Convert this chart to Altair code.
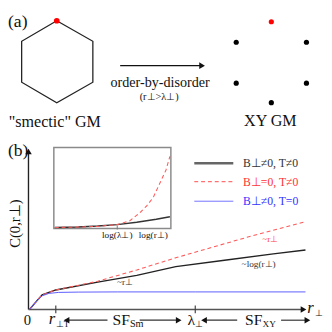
import altair as alt
import pandas as pd

FONT = "Liberation Serif"

# ---------------- panel (a) ----------------
hex_x = [58, 95, 95, 58, 22, 22, 58]
hex_y = [17, 38, 80, 101, 80, 38, 17]
hex_dot_x = [58]
hex_dot_y = [17]
xy_dot_x = [278, 314, 314, 278, 242, 242]
xy_dot_y = [18, 39, 81, 101, 81, 39]
xy_dot_col = ["red", "black", "black", "black", "black", "black"]

# ---------------- panel (b): main curves ----------------
black_x = [30, 36, 43, 57, 100, 140, 180, 230, 280, 313]
black_y = [313, 306, 298, 293, 285, 278, 269, 262.5, 256, 252]
red_x = [30, 36, 43, 57, 100, 140, 180, 253, 313]
red_y = [313, 306, 298, 293, 284, 272.5, 260, 239, 223]
blue_x = [30, 36, 43, 50, 60, 80, 120, 200, 313]
blue_y = [313, 306, 299, 296.5, 295.5, 295.2, 295, 295, 295]

# ---------------- inset curves ----------------
in_black_x = [56, 80, 100, 120, 140, 160, 174]
in_black_y = [229, 228.5, 227.5, 226, 223.5, 220.5, 218]
in_red_x = [56, 80, 100, 120, 133, 143, 150, 157, 163, 170, 174]
in_red_y = [229, 228.5, 227.8, 226, 222, 214, 207, 198, 185, 170, 156]

# ---------------- straight segments ----------------
seg_x1 = [29, 29, 57, 200, 123, 68, 143, 208, 288]
seg_y1 = [313, 313, 309, 309, 63, 324, 324, 324, 324]
seg_x2 = [29, 309, 57, 200, 205, 110, 181, 243, 313]
seg_y2 = [153, 313, 317, 317, 63, 324, 324, 324, 324]
seg_w = [1.4, 1.6, 1.2, 1.2, 1.5, 1.2, 1.2, 1.2, 1.2]
seg_c = ["#222", "#555", "#444", "#444", "#111", "#333", "#333", "#333", "#333"]

# arrow heads
head_x = [207, 29, 311, 68, 183, 209, 315]
head_y = [63, 151, 313, 324, 324, 324, 324]
head_shape = ["triangle-right", "triangle-up", "triangle-right", "triangle-left",
              "triangle-right", "triangle-left", "triangle-right"]

# legend
leg_labels = ["B\u22a5\u22600, T\u22600", "B\u22a5=0, T\u22600", "B\u22a5\u22600, T=0"]
leg_colors = ["#333333", "#ff3333", "#3333ff"]
leg_y = [163, 182, 202]

# texts (centered)
ctext = ['"smectic" GM', "XY GM", "order-by-disorder", "(r\u22a5>\u03bb\u22a5)", "0",
         "SF", "SF", "\u03bb", "log(\u03bb\u22a5)", "log(r\u22a5)",
         "~log(r\u22a5)", "~r\u22a5"]
ctext_x = [56, 277, 164, 163, 28, 124, 260, 196, 120, 157, 265, 128]
ctext_y = [121, 120, 81, 95, 324, 324, 324, 324, 237, 237, 266, 285]
ctext_size = [16.5, 16.5, 14.5, 10.5, 15, 16, 16, 16, 9.5, 9.5, 9.5, 9.5]
ctext_col = ["#111"] * 10 + ["#333", "#333"]

# subscripts (left aligned)
sub_text = ["Sm", "XY", "\u22a5", "\u22a5T", "\u22a5"]
sub_x = [133, 269, 200, 57, 323]
sub_y = [328, 328, 328, 328, 317]
sub_size = [10.5, 9.5, 9, 9, 9]

# italic r's
ital_text = ["r", "r"]
ital_x = [53, 318]
ital_y = [323, 312]

panel_labels = ["(a)", "(b)"]
panel_x = [8, 8]
panel_y = [18, 151]

xs = alt.Scale(domain=[8, 332], nice=False, zero=False)
ys = alt.Scale(domain=[8, 332], nice=False, zero=False, reverse=True)


def X(f):
    return alt.X(f, type="quantitative", scale=xs, axis=None)


def Y(f):
    return alt.Y(f, type="quantitative", scale=ys, axis=None)


def line_df(xv, yv):
    return pd.DataFrame({"x": xv, "y": yv, "o": list(range(len(xv)))})


layers = []

# hexagon
layers.append(alt.Chart(line_df(hex_x, hex_y)).mark_line(color="#222", strokeWidth=1.3).encode(
    x=X("x"), y=Y("y"), order="o:Q"))
layers.append(alt.Chart(pd.DataFrame({"x": hex_dot_x, "y": hex_dot_y})).mark_circle(
    color="red", size=34, opacity=1).encode(x=X("x"), y=Y("y")))
layers.append(alt.Chart(pd.DataFrame({"x": xy_dot_x, "y": xy_dot_y, "c": xy_dot_col})).mark_circle(
    size=28, opacity=1).encode(x=X("x"), y=Y("y"), color=alt.Color("c:N", scale=None)))

# segments
seg = pd.DataFrame({"x": seg_x1, "y": seg_y1, "x2": seg_x2, "y2": seg_y2, "w": seg_w, "c": seg_c})
layers.append(alt.Chart(seg).mark_rule().encode(
    x=X("x"), y=Y("y"), x2="x2", y2="y2",
    strokeWidth=alt.StrokeWidth("w:Q", scale=None),
    color=alt.Color("c:N", scale=None)))

# arrow heads
heads = pd.DataFrame({"x": head_x, "y": head_y, "s": head_shape})
layers.append(alt.Chart(heads).mark_point(filled=True, color="#111", size=45, opacity=1).encode(
    x=X("x"), y=Y("y"), shape=alt.Shape("s:N", scale=None)))

# main curves
layers.append(alt.Chart(line_df(black_x, black_y)).mark_line(color="#222", strokeWidth=1.4).encode(
    x=X("x"), y=Y("y"), order="o:Q"))
layers.append(alt.Chart(line_df(red_x, red_y)).mark_line(color="#ff5a5a", strokeWidth=1.1, strokeDash=[4, 3]).encode(
    x=X("x"), y=Y("y"), order="o:Q"))
layers.append(alt.Chart(line_df(blue_x, blue_y)).mark_line(color="#5a5aff", strokeWidth=1).encode(
    x=X("x"), y=Y("y"), order="o:Q"))

# inset box
layers.append(alt.Chart(pd.DataFrame({"x": [55], "y": [147], "x2": [175], "y2": [230]})).mark_rect(
    fill="white", stroke="#8a8a8a", strokeWidth=1.5).encode(x=X("x"), y=Y("y"), x2="x2", y2="y2"))
layers.append(alt.Chart(line_df(in_black_x, in_black_y)).mark_line(color="#333", strokeWidth=1.5).encode(
    x=X("x"), y=Y("y"), order="o:Q"))
layers.append(alt.Chart(line_df(in_red_x, in_red_y)).mark_line(color="#ff5a5a", strokeWidth=1.1, strokeDash=[4, 3]).encode(
    x=X("x"), y=Y("y"), order="o:Q"))
layers.append(alt.Chart(pd.DataFrame({"x": [120], "y": [227], "y2": [231]})).mark_rule(color="#777").encode(
    x=X("x"), y=Y("y"), y2="y2"))

# legend
layers.append(alt.Chart(pd.DataFrame({"x": [199], "x2": [239], "y": [leg_y[0]]})).mark_rule(
    color="#666", strokeWidth=2.5).encode(x=X("x"), x2="x2", y=Y("y")))
layers.append(alt.Chart(pd.DataFrame({"x": [199], "x2": [239], "y": [leg_y[1]]})).mark_rule(
    color="#ff7070", strokeWidth=1.2, strokeDash=[4, 3]).encode(x=X("x"), x2="x2", y=Y("y")))
layers.append(alt.Chart(pd.DataFrame({"x": [199], "x2": [239], "y": [leg_y[2]]})).mark_rule(
    color="#7070ff", strokeWidth=1).encode(x=X("x"), x2="x2", y=Y("y")))
layers.append(alt.Chart(pd.DataFrame({"t": leg_labels, "c": leg_colors, "x": [249] * 3, "y": leg_y})).mark_text(
    font=FONT, fontSize=12, align="left", baseline="middle").encode(
    x=X("x"), y=Y("y"), text="t:N", color=alt.Color("c:N", scale=None)))

# centered texts
layers.append(alt.Chart(pd.DataFrame({"t": ctext, "x": ctext_x, "y": ctext_y, "s": ctext_size, "c": ctext_col})).mark_text(
    font=FONT, align="center", baseline="middle").encode(
    x=X("x"), y=Y("y"), text="t:N", size=alt.Size("s:Q", scale=None),
    color=alt.Color("c:N", scale=None)))
# red annotation
layers.append(alt.Chart(pd.DataFrame({"t": ["~r\u22a5"], "x": [277], "y": [241]})).mark_text(
    font=FONT, fontSize=9.5, color="#ff4444", align="center", baseline="middle").encode(
    x=X("x"), y=Y("y"), text="t:N"))
# subscripts
layers.append(alt.Chart(pd.DataFrame({"t": sub_text, "x": sub_x, "y": sub_y, "s": sub_size})).mark_text(
    font=FONT, align="left", baseline="middle", color="#111").encode(
    x=X("x"), y=Y("y"), text="t:N", size=alt.Size("s:Q", scale=None)))
# italic r
layers.append(alt.Chart(pd.DataFrame({"t": ital_text, "x": ital_x, "y": ital_y})).mark_text(
    font=FONT, fontSize=17, fontStyle="italic", align="center", baseline="middle", color="#111").encode(
    x=X("x"), y=Y("y"), text="t:N"))
# panel labels
layers.append(alt.Chart(pd.DataFrame({"t": panel_labels, "x": panel_x, "y": panel_y})).mark_text(
    font=FONT, fontSize=18, align="left", baseline="middle", color="#111").encode(
    x=X("x"), y=Y("y"), text="t:N"))
# rotated y label
layers.append(alt.Chart(pd.DataFrame({"t": ["C(0,r\u22a5)"], "x": [15], "y": [225]})).mark_text(
    font=FONT, fontSize=15, angle=270, align="center", baseline="middle", color="#111").encode(
    x=X("x"), y=Y("y"), text="t:N"))

chart = alt.layer(*layers).properties(
    width=324, height=324, padding=0, autosize="none", background="white"
).configure_view(stroke=None)

chart.save("out.html", embed_options={"renderer": "svg", "actions": False})
